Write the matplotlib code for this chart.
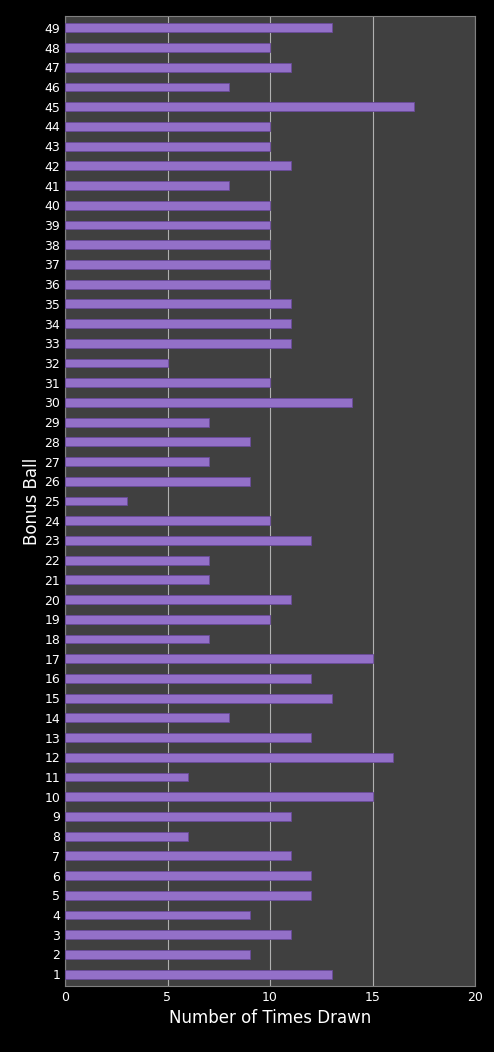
import matplotlib.pyplot as plt

balls = list(range(1, 50))
counts = [13, 9, 11, 9, 12, 12, 11, 6, 11, 15,
          6, 16, 12, 8, 13, 12, 15, 7, 10, 11,
          7, 7, 12, 10, 3, 9, 7, 9, 7, 14,
          10, 5, 11, 11, 11, 10, 10, 10, 10, 10,
          8, 11, 10, 10, 17, 8, 11, 10, 13]

fig = plt.figure(figsize=(4.94, 10.52), dpi=100, facecolor='black')
ax = fig.add_axes([65/494, 66/1052, 410/494, (1052-66-16)/1052])
ax.set_facecolor('#404040')
ax.barh(balls, counts, height=0.45, color='#9370c8', edgecolor='#6a4a9a', linewidth=0.6, zorder=3)
ax.set_xlim(0, 20)
ax.set_ylim(0.4, 49.6)
ax.set_xticks([0, 5, 10, 15, 20])
ax.set_yticks(balls)
ax.xaxis.grid(True, color='#b0b0b0', linewidth=0.8, zorder=0)
for s in ax.spines.values():
    s.set_color('#808080')
ax.tick_params(colors='white', labelsize=9, length=0)
ax.set_xlabel('Number of Times Drawn', color='white', fontsize=12)
ax.set_ylabel('Bonus Ball', color='white', fontsize=12, labelpad=2)
fig.savefig('out.png', facecolor='black')
